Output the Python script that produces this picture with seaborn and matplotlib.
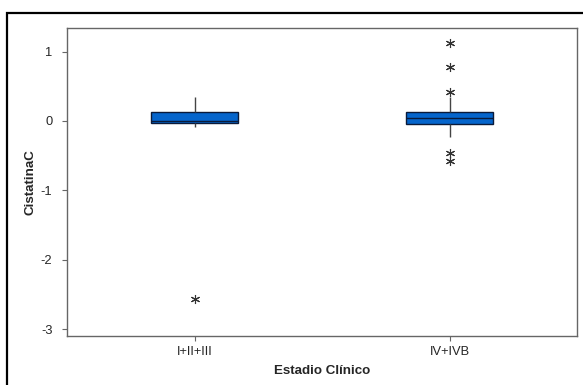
import matplotlib
matplotlib.use("Agg")
import matplotlib.pyplot as plt
import matplotlib.patches as mpatches
import seaborn as sns
import pandas as pd

# -------------------------------
# DATA
# -------------------------------
stages = ["I+II+III", "IV+IVB"]
cistatina_early = [-2.57, -0.08, -0.03, -0.02, 0.0, 0.06, 0.13, 0.22, 0.34]
cistatina_late = [-0.58, -0.46, -0.23, -0.15, -0.09, -0.04, -0.02, 0.0, 0.02,
                  0.04, 0.046, 0.05, 0.07, 0.09, 0.11, 0.13, 0.22, 0.35,
                  0.42, 0.78, 1.12]
y_ticks = [1, 0, -1, -2, -3]

df = pd.DataFrame({
    "stage": [stages[0]] * len(cistatina_early) + [stages[1]] * len(cistatina_late),
    "value": cistatina_early + cistatina_late,
})

sns.set_style("white")
plt.rcParams["font.family"] = ["Liberation Sans", "DejaVu Sans"]

fig = plt.figure(figsize=(5.83, 3.85), dpi=100)
ax = fig.add_axes([67 / 583, 1 - 336 / 385, 510 / 583, 308 / 385])

# outer frame of the figure
fig.patches.append(mpatches.Rectangle(
    (7 / 583, -0.1), 1.2, 1 - 13 / 385 + 0.1, transform=fig.transFigure,
    fill=False, edgecolor="black", linewidth=1.6))

sns.boxplot(data=df, x="stage", y="value", order=stages, ax=ax,
            width=0.34, whis=1.5, showcaps=False, color="#0565CC",
            boxprops=dict(facecolor="#0565CC", edgecolor="#0a1a3a", linewidth=1.0),
            medianprops=dict(color="#0a1a3a", linewidth=1.0),
            whiskerprops=dict(color="#444444", linewidth=1.0),
            flierprops=dict(marker=(6, 2, 0), markersize=6.5, markeredgecolor="#333333",
                            markerfacecolor="#333333", markeredgewidth=0.8),
            saturation=1)

ax.set_xlim(-0.5, 1.5)
ax.set_ylim(-3.1, 1.34)
ax.set_yticks(y_ticks)
ax.set_yticklabels([str(t) for t in y_ticks])

for s in ax.spines.values():
    s.set_visible(True)
    s.set_color("#666666")
    s.set_linewidth(1.0)

ax.tick_params(axis="both", which="both", direction="out", length=3.5, width=0.8,
               color="#666666", labelsize=9.3, left=True, bottom=True)
ax.tick_params(axis="y", pad=7)
ax.tick_params(axis="x", pad=4)

ax.set_xlabel("Estadio Clínico", fontsize=9.6, fontweight="bold", labelpad=5)
ax.set_ylabel("CistatinaC", fontsize=9.6, fontweight="bold", labelpad=3)

fig.savefig("out.png", dpi=100)
